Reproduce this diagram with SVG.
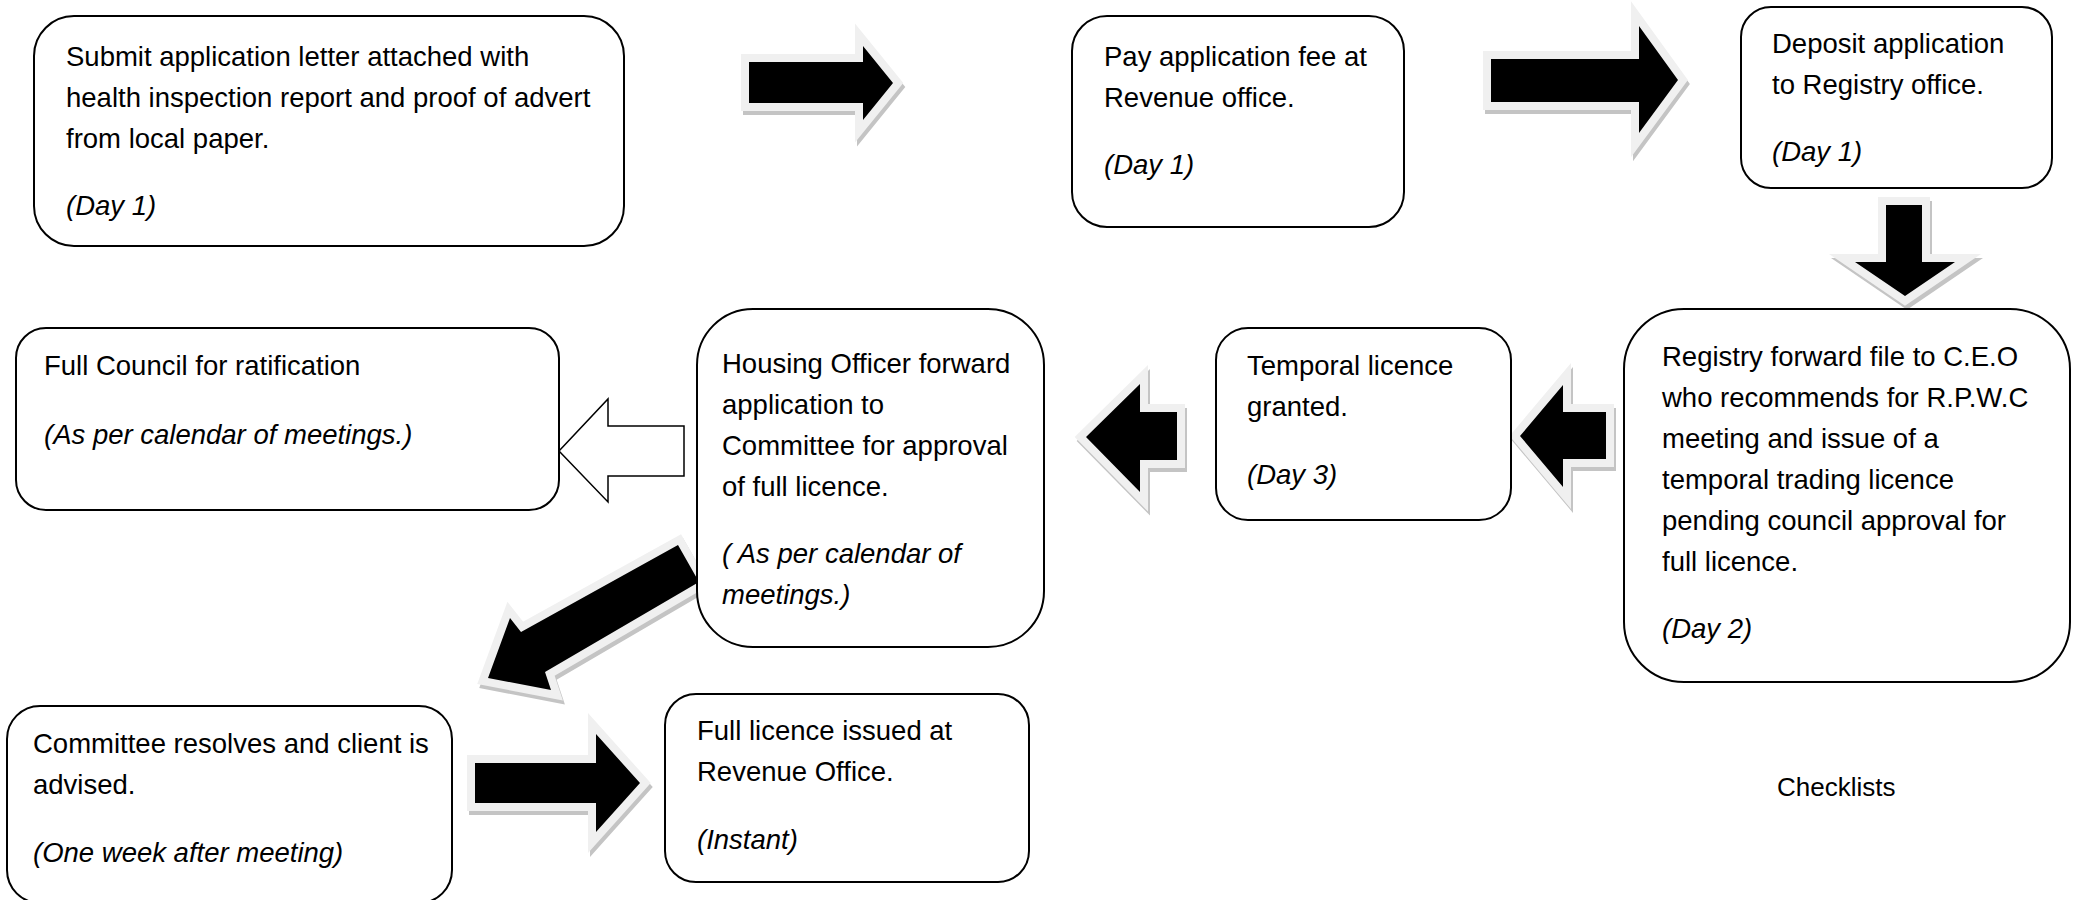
<svg xmlns="http://www.w3.org/2000/svg" xmlns:xlink="http://www.w3.org/1999/xlink" width="2073" height="900" viewBox="0 0 2073 900">
<style>
.box{fill:#fff;stroke:#000;stroke-width:2}
text{font-family:"Liberation Sans",Arial,sans-serif;font-size:27.5px;fill:#000}
.it{font-style:italic}
.shadow{fill:#c4c4c4;stroke:#c4c4c4;stroke-width:16;stroke-linejoin:miter;stroke-miterlimit:10}
.halo{fill:#f0f0f0;stroke:#f0f0f0;stroke-width:16;stroke-linejoin:miter;stroke-miterlimit:10}
.core{fill:#000}
.hollow{fill:#fff;stroke:#000;stroke-width:1.5}
</style>
<defs>
<path id="p1" d="M749,62 H863 V46 L893,83 L863,120 V103 H749 Z"/>
<path id="p2" d="M1491,59 H1639 V26 L1678,80 L1639,133 V102 H1491 Z"/>
<path id="p3" d="M1886,205 H1922 V262 H1955 L1905,296 L1855,262 H1886 Z"/>
<path id="p4" d="M1606,412 V459 H1563 V487 L1520,436 L1563,385 V412 Z"/>
<path id="p5" d="M1177,412 V460 H1140 V492 L1086,437 L1140,384 V412 Z"/>
<path id="p7" d="M678,545 L699,582 L545,672 L551,690 L488,678 L510,618 L521,632 Z"/>
<path id="p8" d="M475,763 H596 V734 L640,783 L596,832 V803 H475 Z"/>
</defs>

<g id="connectors">
<g id="arrow1"><use xlink:href="#p1" class="shadow" transform="translate(2,4)"/><use xlink:href="#p1" class="halo"/><use xlink:href="#p1" class="core"/></g>
<g id="arrow2"><use xlink:href="#p2" class="shadow" transform="translate(2,4)"/><use xlink:href="#p2" class="halo"/><use xlink:href="#p2" class="core"/></g>
<g id="arrow3"><use xlink:href="#p3" class="shadow" transform="translate(2,4)"/><use xlink:href="#p3" class="halo"/><use xlink:href="#p3" class="core"/></g>
<g id="arrow4"><use xlink:href="#p4" class="shadow" transform="translate(2,4)"/><use xlink:href="#p4" class="halo"/><use xlink:href="#p4" class="core"/></g>
<g id="arrow5"><use xlink:href="#p5" class="shadow" transform="translate(2,4)"/><use xlink:href="#p5" class="halo"/><use xlink:href="#p5" class="core"/></g>
<g id="arrow6"><path class="hollow" d="M684,426 V476 H608 V502 L559,451 L608,399 V426 Z"/></g>
<g id="arrow7"><use xlink:href="#p7" class="shadow" transform="translate(2,4)"/><use xlink:href="#p7" class="halo"/><use xlink:href="#p7" class="core"/></g>
<g id="arrow8"><use xlink:href="#p8" class="shadow" transform="translate(2,4)"/><use xlink:href="#p8" class="halo"/><use xlink:href="#p8" class="core"/></g>
</g>

<g id="n1">
<rect class="box" x="34" y="16" width="590" height="230" rx="40"/>
<text x="66" y="66">Submit application letter attached with</text>
<text x="66" y="107">health inspection report and proof of advert</text>
<text x="66" y="148">from local paper.</text>
<text x="66" y="215" class="it">(Day 1)</text>
</g>

<g id="n2">
<rect class="box" x="1072" y="16" width="332" height="211" rx="35"/>
<text x="1104" y="66">Pay application fee at</text>
<text x="1104" y="107">Revenue office.</text>
<text x="1104" y="174" class="it">(Day 1)</text>
</g>

<g id="n3">
<rect class="box" x="1741" y="7" width="311" height="181" rx="30"/>
<text x="1772" y="53">Deposit application</text>
<text x="1772" y="94">to Registry office.</text>
<text x="1772" y="161" class="it">(Day 1)</text>
</g>

<g id="n4">
<rect class="box" x="1624" y="309" width="446" height="373" rx="60"/>
<text x="1662" y="366">Registry forward file to C.E.O</text>
<text x="1662" y="407">who recommends for R.P.W.C</text>
<text x="1662" y="448">meeting and issue of a</text>
<text x="1662" y="489">temporal trading licence</text>
<text x="1662" y="530">pending council approval for</text>
<text x="1662" y="571">full licence.</text>
<text x="1662" y="638" class="it">(Day 2)</text>
</g>

<g id="n5">
<rect class="box" x="1216" y="328" width="295" height="192" rx="32"/>
<text x="1247" y="375">Temporal licence</text>
<text x="1247" y="416">granted.</text>
<text x="1247" y="484" class="it">(Day 3)</text>
</g>

<g id="n6">
<rect class="box" x="697" y="309" width="347" height="338" rx="56"/>
<text x="722" y="373">Housing Officer forward</text>
<text x="722" y="414">application to</text>
<text x="722" y="455">Committee for approval</text>
<text x="722" y="496">of full licence.</text>
<text x="722" y="563" class="it">( As per calendar of</text>
<text x="722" y="604" class="it">meetings.)</text>
</g>

<g id="n7">
<rect class="box" x="16" y="328" width="543" height="182" rx="30"/>
<text x="44" y="375">Full Council for ratification</text>
<text x="44" y="444" class="it">(As per calendar of meetings.)</text>
</g>

<g id="n8">
<rect class="box" x="7" y="706" width="445" height="197" rx="33"/>
<text x="33" y="753">Committee resolves and client is</text>
<text x="33" y="794">advised.</text>
<text x="33" y="862" class="it">(One week after meeting)</text>
</g>

<g id="n9">
<rect class="box" x="665" y="694" width="364" height="188" rx="31"/>
<text x="697" y="740">Full licence issued at</text>
<text x="697" y="781">Revenue Office.</text>
<text x="697" y="849" class="it">(Instant)</text>
</g>

<g id="n10">
<text x="1777" y="796" style="font-size:26px">Checklists</text>
</g>
</svg>
